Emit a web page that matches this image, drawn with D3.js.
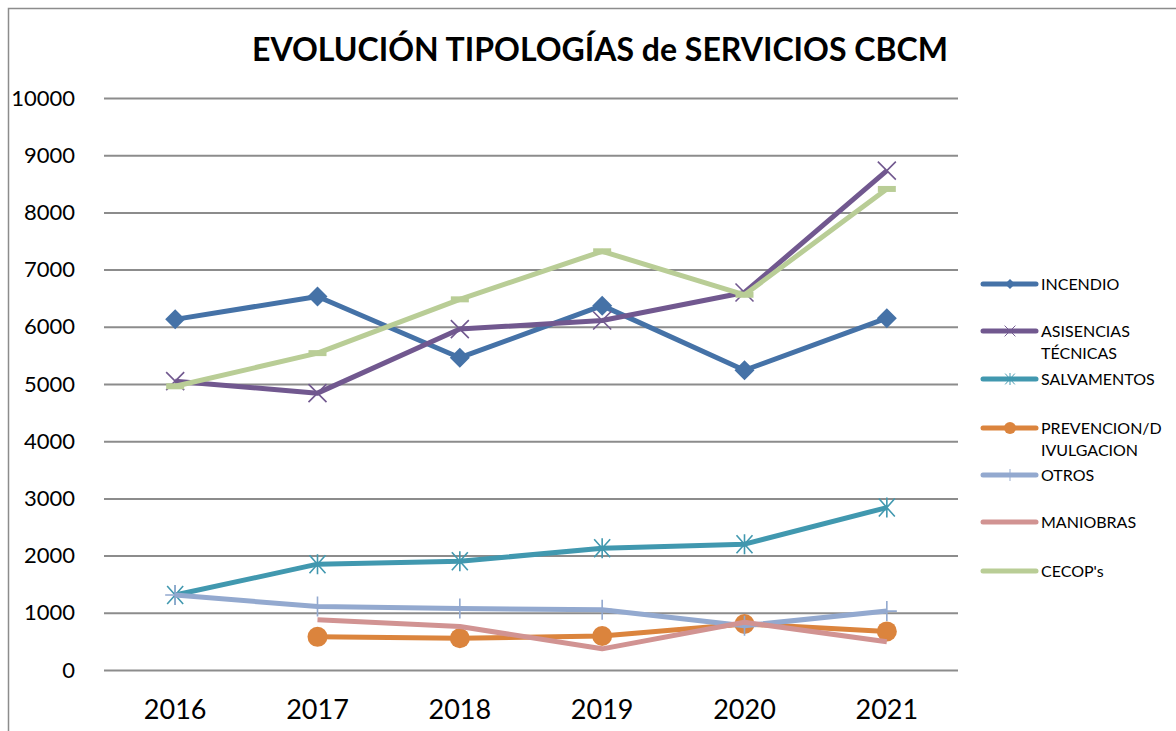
<!DOCTYPE html>
<html>
<head>
<meta charset="utf-8">
<script src="https://cdnjs.cloudflare.com/ajax/libs/d3/7.8.5/d3.min.js"></script>
<style>
  body { margin: 0; background: #fff; }
  svg { font-family: Lato, "Open Sans", sans-serif; }
</style>
</head>
<body>
<div id="chart"></div>
<script>
// data
var years = ["2016", "2017", "2018", "2019", "2020", "2021"];
var yTicks = [0, 1000, 2000, 3000, 4000, 5000, 6000, 7000, 8000, 9000, 10000];

var incendio    = [6130, 6530, 5460, 6370, 5240, 6150];
var asistencias = [5050, 4840, 5960, 6110, 6600, 8730];
var salvamentos = [1310, 1850, 1900, 2130, 2200, 2840];
var prevencion  = [null, 580, 555, 595, 805, 675];
var otros       = [1310, 1110, 1075, 1055, 775, 1030];
var maniobras   = [null, 880, 760, 370, 835, 495];
var cecops      = [4960, 5540, 6480, 7320, 6560, 8410];

var seriesNames  = ["INCENDIO", "ASISENCIAS TÉCNICAS", "SALVAMENTOS", "PREVENCION/DIVULGACION", "OTROS", "MANIOBRAS", "CECOP's"];
var seriesValues = [incendio, asistencias, salvamentos, prevencion, otros, maniobras, cecops];
var seriesColors = ["#4572a7", "#71588f", "#4198af", "#db843d", "#93a9cf", "#d19392", "#b9cd96"];
var seriesMarks  = ["diamond", "x", "star", "circle", "plus", "none", "dash"];
// legend text split into lines like the original
var legendLines  = [["INCENDIO"], ["ASISENCIAS", "TÉCNICAS"], ["SALVAMENTOS"], ["PREVENCION/D", "IVULGACION"], ["OTROS"], ["MANIOBRAS"], ["CECOP's"]];

var W = 1176, H = 731;
var margin = { top: 98, right: 218, bottom: 61, left: 104 };
var width = W - margin.left - margin.right,
    height = H - margin.top - margin.bottom;

var svg = d3.select("#chart").append("svg")
    .attr("width", W)
    .attr("height", H);

// outer frame
svg.append("path")
    .attr("d", "M8.5," + H + "V8.5H" + W)
    .attr("fill", "none")
    .attr("stroke", "#8c8c8c")
    .attr("stroke-width", 1.5);

// title
svg.append("text")
    .attr("x", 600)
    .attr("y", 61)
    .attr("text-anchor", "middle")
    .style("font-size", "32px")
    .style("font-weight", "bold")
    .text("EVOLUCIÓN TIPOLOGÍAS de SERVICIOS CBCM");

var g = svg.append("g")
    .attr("transform", "translate(" + margin.left + "," + margin.top + ")");

var x = d3.scaleBand()
    .domain(years)
    .range([0, width]);

var y = d3.scaleLinear()
    .domain([0, 10000])
    .range([height, 0]);

// gridlines
g.append("g")
    .call(d3.axisLeft(y).tickValues(yTicks).tickSize(-width).tickFormat(""))
    .call(function (a) {
        a.select(".domain").remove();
        a.selectAll(".tick line").attr("stroke", "#8c8c8c").attr("stroke-width", 2);
    });

// y labels
g.append("g")
    .attr("transform", "translate(-26,0)")
    .call(d3.axisLeft(y).tickValues(yTicks).tickSize(0).tickFormat(d3.format("d")))
    .call(function (a) {
        a.select(".domain").remove();
        a.selectAll("text")
            .attr("fill", "#000")
            .style("font-family", "Lato, sans-serif")
            .style("font-size", "22px");
    });

// x labels
g.append("g")
    .attr("transform", "translate(0," + height + ")")
    .call(d3.axisBottom(x).tickSize(0).tickPadding(30))
    .call(function (a) {
        a.select(".domain").remove();
        a.selectAll("text")
            .attr("fill", "#000")
            .style("font-family", "Lato, sans-serif")
            .style("font-size", "27px");
    });

function cx(i) { return x(years[i]) + x.bandwidth() / 2; }

function drawMarker(sel, type, color, px, py) {
    if (type == "diamond") {
        sel.append("path")
            .attr("d", "M" + px + "," + (py - 10) + "L" + (px + 10) + "," + py + "L" + px + "," + (py + 10) + "L" + (px - 10) + "," + py + "Z")
            .attr("fill", color);
    } else if (type == "x") {
        sel.append("path")
            .attr("d", "M" + (px - 9) + "," + (py - 9) + "L" + (px + 9) + "," + (py + 9) + "M" + (px - 9) + "," + (py + 9) + "L" + (px + 9) + "," + (py - 9))
            .attr("stroke", color).attr("stroke-width", 1.6);
    } else if (type == "star") {
        sel.append("path")
            .attr("d", "M" + (px - 8) + "," + (py - 9) + "L" + (px + 8) + "," + (py + 9) + "M" + (px - 8) + "," + (py + 9) + "L" + (px + 8) + "," + (py - 9) + "M" + px + "," + (py - 10) + "L" + px + "," + (py + 10))
            .attr("stroke", color).attr("stroke-width", 1.6);
    } else if (type == "circle") {
        sel.append("ellipse")
            .attr("cx", px).attr("cy", py)
            .attr("rx", 10).attr("ry", 10)
            .attr("fill", color);
    } else if (type == "plus") {
        sel.append("path")
            .attr("d", "M" + px + "," + (py - 10) + "L" + px + "," + (py + 10) + "M" + (px - 10) + "," + py + "L" + (px + 10) + "," + py)
            .attr("stroke", color).attr("stroke-width", 1.6);
    } else if (type == "dash") {
        sel.append("path")
            .attr("d", "M" + (px - 9) + "," + py + "L" + (px + 9) + "," + py)
            .attr("stroke", color).attr("stroke-width", 6);
    }
}

// series
seriesValues.forEach(function (vals, s) {
    var color = seriesColors[s];
    var pts = vals.map(function (v, i) { return { i: i, v: v }; })
        .filter(function (d) { return d.v != null; });

    g.append("path")
        .datum(pts)
        .attr("fill", "none")
        .attr("stroke", color)
        .attr("stroke-width", 5)
        .attr("stroke-linejoin", "round")
        .attr("d", d3.line()
            .x(function (d) { return cx(d.i); })
            .y(function (d) { return y(d.v); }));

    var mg = g.append("g");
    pts.forEach(function (d) {
        drawMarker(mg, seriesMarks[s], color, cx(d.i), y(d.v));
    });
});

// legend
var legendY = [284, 331, 379, 428, 475, 522, 571];
var leg = svg.append("g");
seriesNames.forEach(function (name, s) {
    var ly = legendY[s];
    leg.append("line")
        .attr("x1", 983).attr("x2", 1036)
        .attr("y1", ly).attr("y2", ly)
        .attr("stroke", seriesColors[s])
        .attr("stroke-width", 5)
        .attr("stroke-linecap", "round");
    var m = seriesMarks[s] == "dash" ? "none" : seriesMarks[s];
    if (m == "diamond") {
        leg.append("path")
            .attr("d", "M1010," + (ly - 5) + "L1015," + ly + "L1010," + (ly + 5) + "L1005," + ly + "Z")
            .attr("fill", seriesColors[s]);
    } else if (m == "circle") {
        leg.append("circle").attr("cx", 1010).attr("cy", ly).attr("r", 6).attr("fill", seriesColors[s]);
    } else if (m != "none") {
        drawMarker(leg.append("g").attr("transform", "translate(1010," + ly + ") scale(0.6) translate(-1010," + (-ly) + ")"), m, seriesColors[s], 1010, ly);
    }
    var t = leg.append("text")
        .attr("x", 1041)
        .attr("y", ly + 6)
        .style("font-size", "16px")
        .attr("fill", "#000");
    legendLines[s].forEach(function (line, k) {
        t.append("tspan")
            .attr("x", 1041)
            .attr("dy", k == 0 ? 0 : 22)
            .text(line);
    });
});
</script>
</body>
</html>
